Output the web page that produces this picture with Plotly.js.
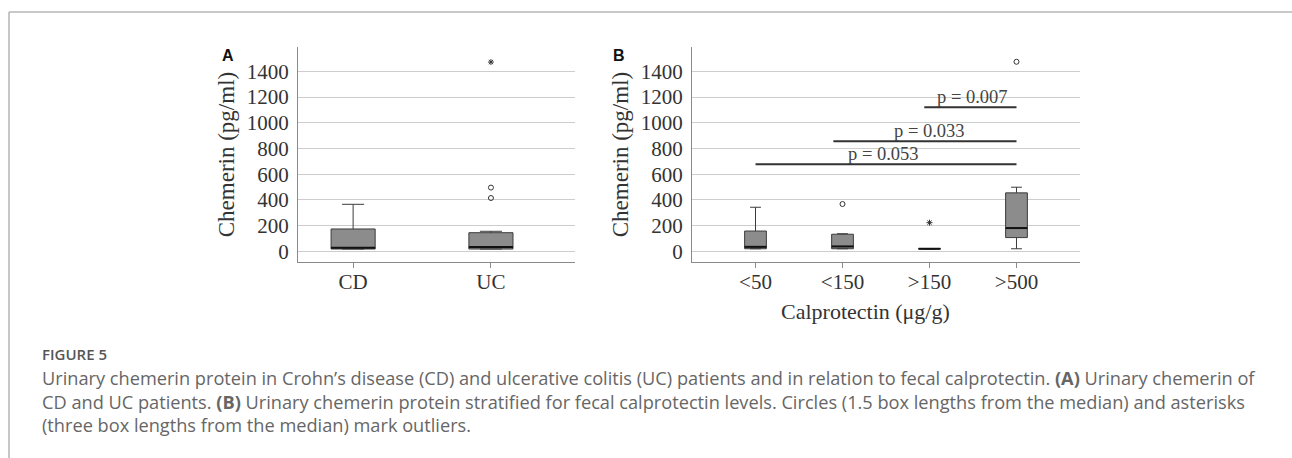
<!DOCTYPE html>
<html>
<head>
<meta charset="utf-8">
<script src="https://cdn.plot.ly/plotly-3.0.1.min.js"></script>
<style>
html,body{margin:0;padding:0;background:#fff;}
#chart{width:1292px;height:458px;}
</style>
</head>
<body>
<div id="chart"></div>
<script>
// ---------- Data ----------
// Panel A: disease groups
const groupsA = ['CD', 'UC'];
const q1A = [18, 18];
const medianA = [28, 33];
const q3A = [174, 145];
const lowerA = [18, 18];
const upperA = [366, 156];
const circleA_group = [1, 1];
const circleA_val = [496, 415];
const starA_group = [1];
const starA_val = [1473];

// Panel B: calprotectin strata
const groupsB = ['<50', '<150', '>150', '>500'];
const q1B = [20, 20, 18, 107];
const medianB = [35, 38, 20, 181];
const q3B = [158, 133, 22, 455];
const lowerB = [20, 20, 18, 20];
const upperB = [343, 137, 22, 499];
const circleB_group = [1, 3];
const circleB_val = [368, 1475];
const starB_group = [2];
const starB_val = [223];

// Significance brackets (panel B)
const bracketFrom = [1.94, 0.895, 0];
const bracketTo = [3, 3, 3];
const bracketY = [1121, 857, 678];
const bracketLabel = ['p = 0.007', 'p = 0.033', 'p = 0.053'];
const bracketLabelX = [2.49, 2.0, 1.47];

const yTicks = [0, 200, 400, 600, 800, 1000, 1200, 1400];

// Caption
const captionTitle = 'FIGURE 5';
const captionLines = [
  'Urinary chemerin protein in Crohn’s disease (CD) and ulcerative colitis (UC) patients and in relation to fecal calprotectin. <b>(A)</b> Urinary chemerin of',
  'CD and UC patients. <b>(B)</b> Urinary chemerin protein stratified for fecal calprotectin levels. Circles (1.5 box lengths from the median) and asterisks',
  '(three box lengths from the median) mark outliers.'
];

// ---------- Styles ----------
const W = 1292, H = 458;
const serif = 'Liberation Serif, Times New Roman, serif';
const textCol = '#333333';
const axisCol = '#8a8a8a';
const gridCol = '#cdcdcd';
const boxFill = '#8c8c8c';
const boxLine = '#3c3c3c';
const esc = s => s.replace(/&/g,'&amp;').replace(/</g,'&lt;').replace(/>/g,'&gt;');
const idx = arr => arr.map((_, i) => i);

const boxWidthA = 0.32, boxWidthB = 0.25;

function boxTrace(xa, ya, q1, med, q3, lo, hi, w) {
  return {
    type: 'box', xaxis: xa, yaxis: ya,
    x: idx(q1), q1: q1, median: med, q3: q3, lowerfence: lo, upperfence: hi,
    width: w, boxpoints: false, whiskerwidth: 0.5,
    fillcolor: boxFill, line: {color: boxLine, width: 1},
    hoverinfo: 'skip', showlegend: false
  };
}
function ptTrace(xa, ya, xs, ys, sym) {
  return {
    type: 'scatter', mode: 'markers', xaxis: xa, yaxis: ya,
    x: xs, y: ys,
    marker: {symbol: sym, size: 5, color: '#333', line: {color: '#333', width: 1}},
    hoverinfo: 'skip', showlegend: false
  };
}

const traces = [
  boxTrace('x', 'y', q1A, medianA, q3A, lowerA, upperA, boxWidthA),
  ptTrace('x', 'y', circleA_group, circleA_val, 'circle-open'),
  ptTrace('x', 'y', starA_group, starA_val, 'asterisk-open'),
  boxTrace('x2', 'y2', q1B, medianB, q3B, lowerB, upperB, boxWidthB),
  ptTrace('x2', 'y2', circleB_group, circleB_val, 'circle-open'),
  ptTrace('x2', 'y2', starB_group, starB_val, 'asterisk-open')
];

const shapes = [];
medianA.forEach((m, i) => shapes.push({type: 'line', xref: 'x', yref: 'y',
  x0: i - boxWidthA / 2, x1: i + boxWidthA / 2, y0: m, y1: m,
  line: {color: '#111', width: 2}}));
medianB.forEach((m, i) => shapes.push({type: 'line', xref: 'x2', yref: 'y2',
  x0: i - boxWidthB / 2, x1: i + boxWidthB / 2, y0: m, y1: m,
  line: {color: '#111', width: 2}}));
bracketY.forEach((y, i) => shapes.push({type: 'line', xref: 'x2', yref: 'y2',
  x0: bracketFrom[i], x1: bracketTo[i], y0: y, y1: y,
  line: {color: '#333', width: 2}}));
// frame lines of the figure panel
shapes.push({type: 'line', xref: 'paper', yref: 'paper', x0: 9/W, x1: 1, y0: 1 - 12/H, y1: 1 - 12/H,
  line: {color: '#c8c8c8', width: 2}});
shapes.push({type: 'line', xref: 'paper', yref: 'paper', x0: 9/W, x1: 9/W, y0: 0, y1: 1 - 12/H,
  line: {color: '#b4b4b4', width: 1.5}});

const annotations = [];
bracketLabel.forEach((t, i) => annotations.push({xref: 'x2', yref: 'y2',
  x: bracketLabelX[i], y: bracketY[i], text: t, showarrow: false,
  xanchor: 'center', yanchor: 'middle', yshift: 10,
  font: {family: serif, size: 18.5, color: '#444'}}));

function paperText(x, y, text, opts) {
  return Object.assign({xref: 'paper', yref: 'paper', x: x / W, y: 1 - y / H,
    text: text, showarrow: false, xanchor: 'center', yanchor: 'middle'}, opts || {});
}
annotations.push(paperText(228, 56, '<b>A</b>', {font: {family: 'Liberation Sans, Arial', size: 16, color: '#111'}}));
annotations.push(paperText(619, 55, '<b>B</b>', {font: {family: 'Liberation Sans, Arial', size: 16, color: '#111'}}));
annotations.push(paperText(865, 311, 'Calprotectin (μg/g)', {font: {family: serif, size: 22, color: textCol}}));

annotations.push(paperText(40, 354, captionTitle, {xanchor: 'left',
  font: {family: 'Open Sans, Lato, sans-serif', size: 15, weight: 600, color: '#555'}}));
annotations.push(paperText(40, 401, captionLines.join('<br>'), {xanchor: 'left', align: 'left',
  font: {family: 'Open Sans, Lato, sans-serif', size: 18.2, color: '#666'}}));

function yAxis(domainTop, domainBottom, anchor) {
  return {
    anchor: anchor, domain: [1 - domainBottom / H, 1 - domainTop / H],
    range: [-83, 1590], tickvals: yTicks, ticktext: yTicks.map(String),
    showgrid: true, gridcolor: gridCol, gridwidth: 1,
    showline: true, linecolor: axisCol, linewidth: 1, zeroline: false,
    ticks: 'outside', ticklen: 4, tickcolor: 'rgba(0,0,0,0)',
    tickfont: {family: serif, size: 21, color: textCol},
    title: {text: 'Chemerin (pg/ml)', font: {family: serif, size: 23, color: textCol}, standoff: 5},
    fixedrange: true
  };
}
function xAxis(left, right, anchor, cats, rng) {
  return {
    anchor: anchor, domain: [left / W, right / W],
    range: rng, tickvals: idx(cats), ticktext: cats.map(esc),
    showgrid: false, zeroline: false,
    showline: true, linecolor: axisCol, linewidth: 1,
    ticks: 'outside', ticklen: 5, tickcolor: axisCol,
    ticklabelstandoff: -4,
    tickfont: {family: serif, size: 21, color: textCol},
    fixedrange: true
  };
}

const layout = {
  width: W, height: H,
  margin: {l: 0, r: 0, t: 0, b: 0},
  paper_bgcolor: '#fff', plot_bgcolor: '#fff',
  showlegend: false,
  xaxis: xAxis(298, 575, 'y', groupsA, [-0.4, 1.61]),
  yaxis: yAxis(47, 262, 'x'),
  xaxis2: xAxis(692, 1080, 'y2', groupsB, [-0.73, 3.73]),
  yaxis2: yAxis(47, 262, 'x2'),
  shapes: shapes,
  annotations: annotations
};

Plotly.newPlot('chart', traces, layout, {displayModeBar: false, staticPlot: true});
</script>
</body>
</html>
